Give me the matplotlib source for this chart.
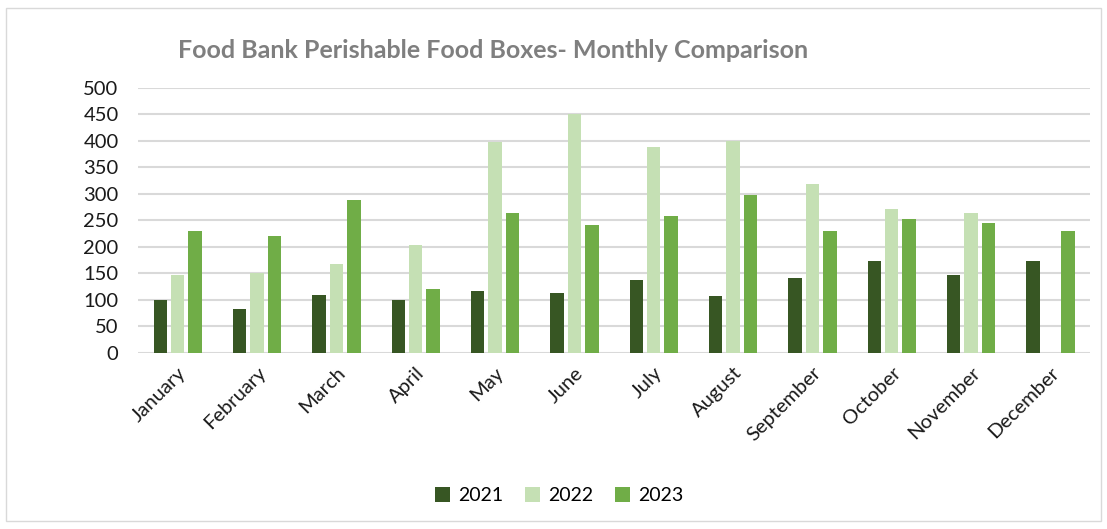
import numpy as np
import matplotlib.pyplot as plt
from matplotlib.patches import Rectangle

plt.rcParams['font.family'] = ['Lato', 'DejaVu Sans']

months = ["January", "February", "March", "April", "May", "June", "July",
          "August", "September", "October", "November", "December"]
y2021 = [100, 83, 110, 100, 117, 114, 137, 107, 141, 174, 147, 174]
y2022 = [147, 150, 167, 204, 399, 450, 389, 400, 319, 272, 265, 0]
y2023 = [231, 221, 289, 120, 265, 241, 258, 299, 231, 252, 245, 231]
years = ["2021", "2022", "2023"]
colors = ["#375623", "#C5E0B4", "#70AD47"]

fig = plt.figure(figsize=(11.07, 5.29), dpi=100)
ax = fig.add_axes([0.1247, 0.3327, 0.86, 0.501])

x = np.arange(len(months))
w = 0.17
for off, vals, lab, c in zip([-0.22, 0, 0.22], [y2021, y2022, y2023], years, colors):
    ax.bar(x + off, vals, w, color=c, label=lab, zorder=3)

ax.set_xlim(-0.5, len(months) - 0.5)
ax.set_ylim(0, 500)
ax.set_yticks(range(0, 501, 50))
ax.grid(axis="y", color="#D9D9D9", linewidth=1.5, zorder=0)
for s in ax.spines.values():
    s.set_visible(False)
ax.tick_params(length=0, labelsize=14.5, colors="#1a1a1a")
ax.tick_params(axis="y", pad=14)
ax.tick_params(axis="x", pad=8)
ax.set_xticks(x)
ax.set_xticklabels(months, rotation=45, ha="right", rotation_mode="anchor")

fig.text(0.161, 0.905, "Food Bank Perishable Food Boxes- Monthly Comparison",
         fontsize=18, fontweight="bold", color="#7F7F7F", va="center")

fig.legend(loc="center", bbox_to_anchor=(0.505, 0.063), ncol=3, frameon=False,
           fontsize=14, handlelength=0.8, handleheight=0.8, columnspacing=1.1,
           handletextpad=0.4)

fig.patches.append(Rectangle((0.005, 0.015), 0.99, 0.97, transform=fig.transFigure,
                             fill=False, edgecolor="#D9D9D9", linewidth=1))

fig.savefig("out.png", dpi=100)
